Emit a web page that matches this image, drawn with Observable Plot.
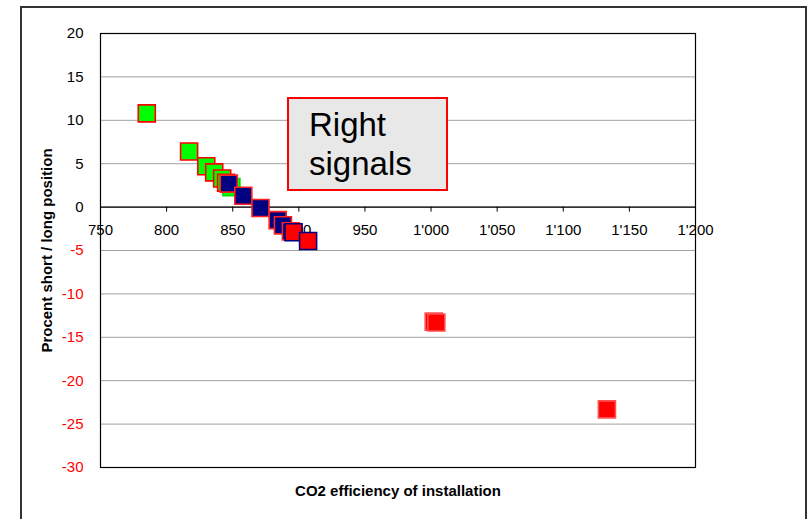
<!DOCTYPE html>
<html>
<head>
<meta charset="utf-8">
<script src="https://cdn.jsdelivr.net/npm/d3@7"></script>
<script src="https://cdn.jsdelivr.net/npm/@observablehq/plot@0.6"></script>
<style>
  html, body { margin: 0; padding: 0; background: #fff; }
  #wrap { position: relative; width: 810px; height: 519px; overflow: hidden; font-family: "Liberation Sans", Arial, sans-serif; }
  #outer { position: absolute; left: 20px; top: 6px; width: 787px; height: 560px; border: 2px solid #333; box-sizing: border-box; }
  #note { position: absolute; left: 287px; top: 97px; width: 161px; height: 94px; box-sizing: border-box;
          background: #e8e8e8; border: 2px solid #ff0000; padding: 6px 0 0 20px;
          font-size: 33px; line-height: 39px; color: #000; }
  svg { position: absolute; left: 0; top: 0; }
</style>
</head>
<body>
<div id="wrap">
  <div id="outer"></div>
  <div id="chart"></div>
  <div id="note">Right<br>signals</div>
</div>
<script>
// Series: CO2 efficiency (x) vs percent short/long position (y)
const greenX = [785, 817, 830, 836, 842, 845];
const greenY = [10.8, 6.4, 4.7, 4.0, 3.3, 2.8];
const greenPlainX = [849];
const greenPlainY = [2.3];
const navyX = [847, 858, 871, 884, 888, 894];
const navyY = [2.7, 1.3, -0.1, -1.5, -2.1, -2.8];
const redNavyX = [896, 907];
const redNavyY = [-2.9, -3.9];
const redX = [1002, 1004, 1133];
const redY = [-13.2, -13.3, -23.3];

const xTicks = [750, 800, 850, 900, 950, 1000, 1050, 1100, 1150, 1200];
const yTicks = [20, 15, 10, 5, 0, -5, -10, -15, -20, -25, -30];

const xLabel = "CO2 efficiency of installation";
const yLabel = "Procent short / long position";

const zip = (xs, ys) => xs.map((x, i) => ({x, y: ys[i]}));
const locale = d3.formatLocale({decimal: ".", thousands: "'", grouping: [3], currency: ["", ""]});
const fmt = locale.format(",");

const sq = (data, fill, stroke) => Plot.dot(data, {x: "x", y: "y", symbol: "square", r: 9.6, fill, stroke, strokeWidth: 1.6});

const chart = Plot.plot({
  width: 810,
  height: 519,
  marginTop: 33,
  marginLeft: 100,
  marginRight: 115,
  marginBottom: 52,
  style: {fontFamily: "'Liberation Sans', Arial, sans-serif", fontSize: "15px", background: "transparent"},
  x: {domain: [750, 1200], axis: null},
  y: {domain: [-30, 20], axis: null},
  color: {type: "identity"},
  marks: [
    Plot.gridY(yTicks, {stroke: "#a0a0a0", strokeOpacity: 1, strokeWidth: 1}),
    Plot.frame({stroke: "#000", strokeWidth: 1.2}),
    Plot.ruleY([0], {stroke: "#000", strokeWidth: 1.2}),
    Plot.ruleX(xTicks, {x: d => d, y1: 0, y2: 0, insetTop: 5, stroke: "#000"}),
    Plot.text(xTicks, {x: d => d, y: 0, dy: 23, text: d => fmt(d), fill: "#000", fontSize: 15}),
    Plot.axisY(yTicks, {anchor: "left", tickSize: 0, tickPadding: 17, label: null, fontSize: 15,
      tickFormat: d => String(d),
      fill: d => d < 0 ? "#ff0000" : "#000000"}),
    Plot.text([yLabel], {frameAnchor: "left", textAnchor: "middle", dx: -53, rotate: -90, text: d => d, fontWeight: "bold", fontSize: 15, fill: "#000"}),
    Plot.text([xLabel], {frameAnchor: "bottom", textAnchor: "middle", dy: 28, text: d => d, fontWeight: "bold", fontSize: 15, fill: "#000"}),
    sq(zip(greenX, greenY), "#00ff00", "#ff0000"),
    sq(zip(greenPlainX, greenPlainY), "#00ff00", "#00dd00"),
    sq(zip(navyX, navyY), "#000080", "#ff2020"),
    sq(zip(redNavyX, redNavyY), "#ff0000", "#000080"),
    sq(zip(redX, redY), "#ff0000", "#ff5050")
  ]
});
document.getElementById("chart").appendChild(chart);
</script>
</body>
</html>
